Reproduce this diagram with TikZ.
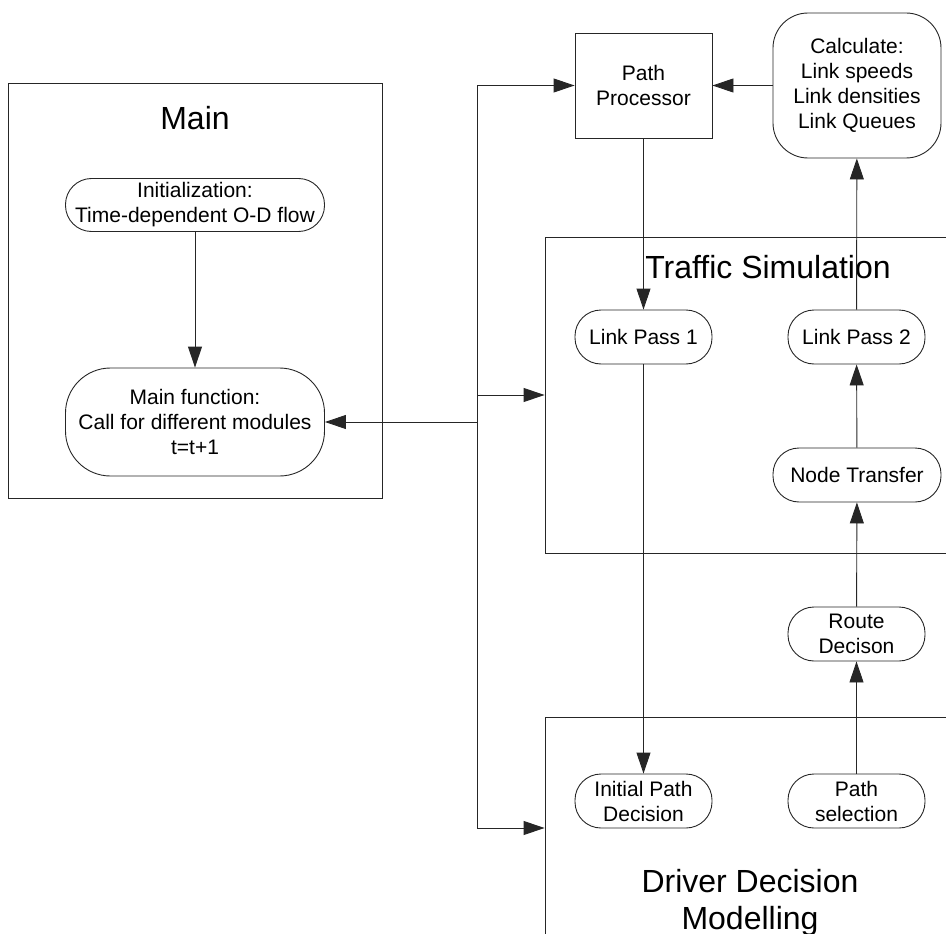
\documentclass[tikz,border=0pt]{standalone}
\usepackage{fontspec}
\setmainfont{Liberation Sans}
\usetikzlibrary{arrows.meta}
\tikzset{
  ln/.style={draw=black!85, line width=0.9pt},
  arr/.style={ln, -{Triangle[length=21pt,width=14pt]}},
  frame/.style={ln, rectangle, inner sep=0pt},
  term/.style={ln, rectangle, inner sep=0pt, align=center,
    font=\fontsize{21}{25}\selectfont},
  small/.style={term, minimum width=137pt, minimum height=54pt, rounded corners=26pt},
  title/.style={align=center, inner sep=0pt, font=\fontsize{32}{37}\selectfont},
}
\begin{document}
\begin{tikzpicture}[x=1pt,y=-1pt]
\useasboundingbox (0,0) rectangle (946,934);
\clip (0,0) rectangle (946,934);

% module frames
\node[frame, minimum width=374pt, minimum height=415pt] (mainbox) at (195,290.5) {};
\node[frame, minimum width=455pt, minimum height=316pt] (ts) at (772.5,395) {};
\node[frame, minimum width=455pt, minimum height=222pt] (dd) at (772.5,828) {};

% frame titles
\node[title] (maint) at (195,118) {Main};
\node[title] (tst) at (768,267) {Traffic Simulation};
\node[title] (ddt) at (750,903) {Driver Decision\\Modelling};

% main module
\node[term, minimum width=259pt, minimum height=53pt, rounded corners=26pt] (init) at (195,205)
  {Initialization:\\Time-dependent O-D flow};
\node[term, minimum width=259pt, minimum height=108pt, rounded corners=45pt] (mainfn) at (195,422)
  {Main function:\\Call for different modules\\t=t+1};

% top row
\node[ln, rectangle, inner sep=0pt, align=center, minimum width=137pt, minimum height=105pt,
  font=\fontsize{21}{25}\selectfont] (pp) at (643.5,85.5) {Path\\Processor};
\node[term, minimum width=168pt, minimum height=145pt, rounded corners=35pt] (calc) at (857,85.5)
  {Calculate:\\Link speeds\\Link densities\\Link Queues};

% traffic simulation
\node[small] (lp1) at (643.5,337) {Link Pass 1};
\node[small] (lp2) at (856.5,337) {Link Pass 2};
\node[term, minimum width=168pt, minimum height=54pt, rounded corners=26pt] (nt) at (857,475) {Node Transfer};
\node[small] (rd) at (856.5,634) {Route\\Decison};

% driver decision
\node[small] (ipd) at (643.5,801) {Initial Path\\Decision};
\node[small] (ps) at (856.5,801) {Path\\selection};

% dispatch rail
\coordinate (railtop) at (477,85.5);
\coordinate (railbot) at (477,828);

\draw[ln] (railtop) -- (railbot);
\draw[arr] (railtop) -- (pp.west);
\draw[arr] (railtop |- ts.west) -- (ts.west);
\draw[arr] (railbot) -- (dd.west);
\draw[arr] (railtop |- mainfn.east) -- (mainfn.east);

% flows
\draw[arr] (init) -- (mainfn);
\draw[arr] (calc) -- (pp);
\draw[arr] (pp) -- (lp1);
\draw[arr] (lp2) -- (calc);
\draw[arr] (nt) -- (lp2);
\draw[arr] (rd) -- (nt);
\draw[arr] (ps) -- (rd);
\draw[arr] (lp1) -- (ipd);
\end{tikzpicture}
\end{document}
